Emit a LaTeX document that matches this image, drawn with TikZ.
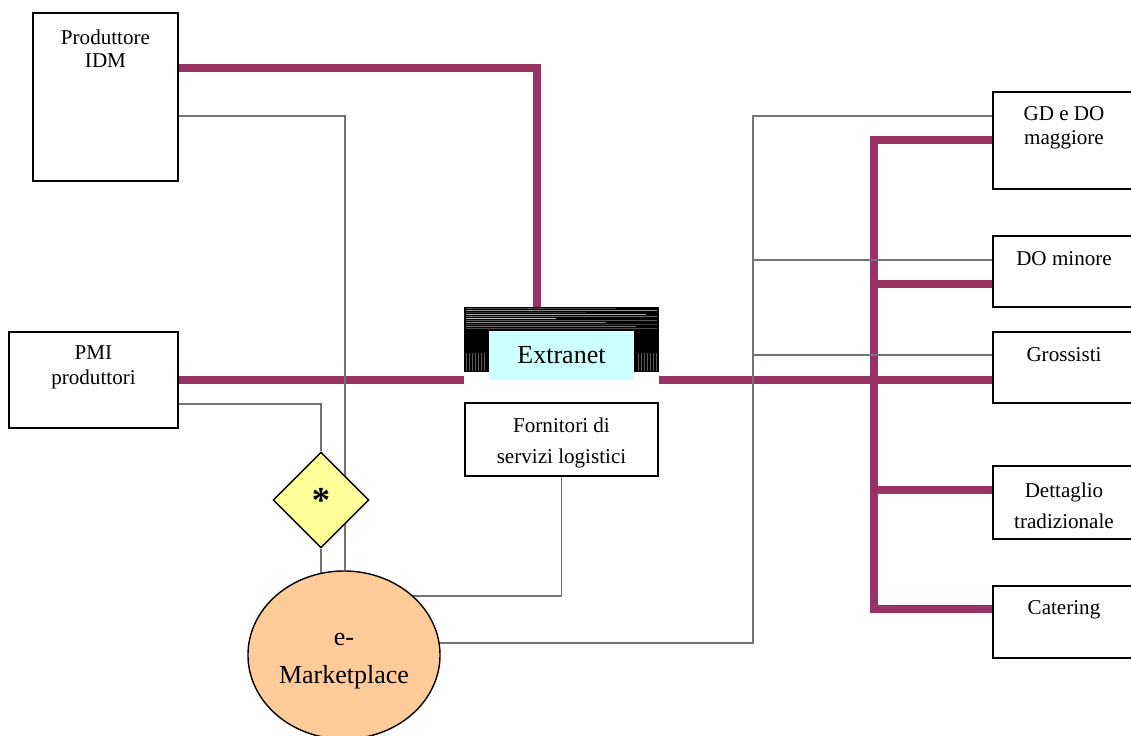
\documentclass[tikz,border=0pt]{standalone}
\usepackage{fontspec}
\setmainfont{Liberation Serif}
\usepackage{xcolor}
\usepackage{tikz}
\usetikzlibrary{shapes, positioning, backgrounds}

\definecolor{plum}{HTML}{993366}
\definecolor{xcyan}{HTML}{CCFFFF}
\definecolor{xyellow}{HTML}{FFFF99}
\definecolor{xorange}{HTML}{FFCC99}

\begin{document}
\begin{tikzpicture}[x=0.025cm, y=-0.025cm,
            box/.style={draw, rectangle, line width=1.1pt, fill=white, inner sep=0pt},
            lbl/.style={align=center, inner sep=0pt, font=\fontsize{15}{16.4}\selectfont},
            big/.style={align=center, inner sep=0pt, font=\fontsize{18.5}{27}\selectfont},
            bus/.style={line width=5pt, color=plum},
            wire/.style={line width=0.9pt, color=black!55}]
            \useasboundingbox (0,0) rectangle (1131,736);

            % produttori (sinistra)
            \node[box, minimum width=3.625cm, minimum height=4.2cm] (idm) at (105.5,97) {};
            \node[lbl] (idmtxt) at (105.5,48.5) {Produttore\\IDM};
            \node[box, minimum width=4.225cm, minimum height=2.4cm] (pmi) at (93.5,380) {};
            \node[lbl, font=\fontsize{15}{17.8}\selectfont] (pmitxt) at (93.5,367.5) {PMI\\produttori};

            % extranet
            \node[rectangle, fill=black, minimum width=4.875cm, minimum height=1.625cm, inner sep=0pt] (xdark) at (561.5,339.5) {};
            \foreach \d/\c/\l in {2/30/150, 4/55/191, 6/20/120, 8/65/180, 10/40/191, 12/70/90, 14/35/191,
                                  16/55/140, 18/25/191, 20/45/170, 22/30/191}
                \draw[white!\c!black, line width=0.5pt] (xdark.north west) ++(2,\d) -- ++(\l,0);
            \foreach \d in {3, 6, 9, 12, 15, 18, 21}
                \draw[white!35!black, line width=0.4pt] (xdark.south west) ++(\d,-1) -- ++(0,-18)
                      (xdark.south east) ++(-\d,-1) -- ++(0,-18);
            \node[fill=xcyan, minimum width=3.625cm, minimum height=1.225cm, big] (xnet) at (561.5,355.5) {Extranet};
            \node[box, minimum width=4.825cm, minimum height=1.825cm] (forn) at (561.5,439.5) {};
            \node[lbl, font=\fontsize{15}{22}\selectfont] (forntxt) at (561.5,442.5) {Fornitori di\\servizi logistici};

            % gate ed e-marketplace
            \node[diamond, draw, line width=1pt, fill=xyellow, aspect=1, minimum width=2.4cm, minimum height=2.4cm, inner sep=0pt,
                  font=\fontsize{26}{26}\bfseries\selectfont] (gate) at (321,500) {*};
            \node[ellipse, draw, line width=1pt, fill=xorange, minimum width=4.8cm, minimum height=4.2cm, big] (mkt) at (344,655) {};
            \node[big] (mkttxt) at (344,661) {e-\\Marketplace};

            % canali (destra)
            \node[box, minimum width=3.525cm, minimum height=2.425cm] (gd) at (1063.5,140.5) {};
            \node[lbl, font=\fontsize{15}{17}\selectfont] (gdtxt) at (1064,128) {GD e DO\\maggiore};
            \node[box, minimum width=3.525cm, minimum height=1.775cm] (dom) at (1063.5,271.5) {};
            \node[lbl] (domtxt) at (1064,259) {DO minore};
            \node[box, minimum width=3.525cm, minimum height=1.775cm] (gro) at (1063.5,367.5) {};
            \node[lbl] (grotxt) at (1064,355) {Grossisti};
            \node[box, minimum width=3.525cm, minimum height=1.825cm] (det) at (1063.5,502.5) {};
            \node[lbl, font=\fontsize{15}{22}\selectfont] (dettxt) at (1064,505.5) {Dettaglio\\tradizionale};
            \node[box, minimum width=3.525cm, minimum height=1.8cm] (cat) at (1063.5,622) {};
            \node[lbl] (cattxt) at (1064,610) {Catering};

            \coordinate (hub) at (874,380);
            \coordinate (spine) at (753,643);

            \begin{scope}[on background layer]
            % collegamenti extranet
            \draw[bus] (idm.east |- 0,68) -| (537,0 |- xdark.north);
            \draw[bus] (pmi.east) -- (xdark.west |- pmi.east);
            \draw[bus] (xdark.east |- hub) -- (gro.west |- hub);
            \draw[bus] (gd.west |- 0,140) -| (hub |- 0,609) -- (cat.west |- 0,609);
            \draw[bus] (hub |- 0,284) -- (dom.west |- 0,284);
            \draw[bus] (hub |- 0,490) -- (det.west |- 0,490);

            % collegamenti e-marketplace
            \draw[wire] (idm.east |- 0,116) -| (mkt.north -| 345,0);
            \draw[wire] (pmi.east |- 0,404) -| (gate.north);
            \draw[wire] (gate.south) -- (gate.south |- mkt.center);
            \draw[wire] (forn.south) |- (mkt.center |- 0,596);
            \draw[wire] (mkt.center |- spine) -| (spine |- 0,116) -- (gd.west |- 0,116);
            \draw[wire] (spine |- 0,260) -- (dom.west |- 0,260);
            \draw[wire] (spine |- 0,355) -- (gro.west |- 0,355);
            \end{scope}
        \end{tikzpicture}
\end{document}
